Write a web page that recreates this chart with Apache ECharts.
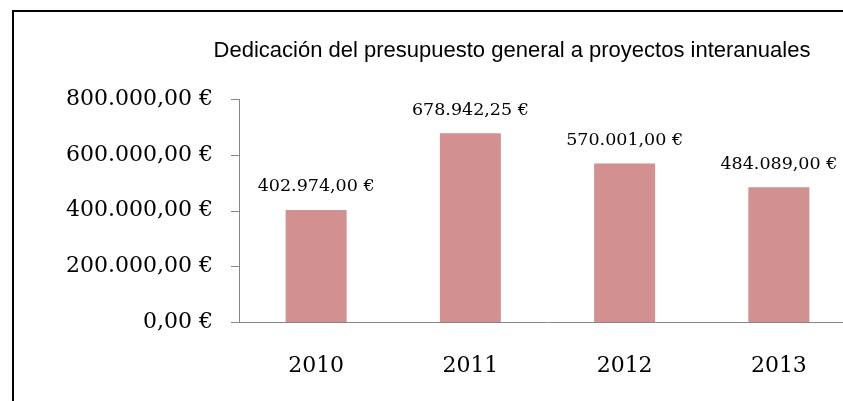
<!DOCTYPE html>
<html>
<head>
<meta charset="utf-8">
<script src="https://cdn.jsdelivr.net/npm/echarts@6/dist/echarts.min.js"></script>
<style>
  html, body { margin: 0; padding: 0; background: #fff; overflow: hidden; }
  #main { width: 860px; height: 401px; }
</style>
</head>
<body>
<div id="main"></div>
<script>
// datos del gráfico
var years = ['2010', '2011', '2012', '2013'];
var importes = [402974.00, 678942.25, 570001.00, 484089.00];
var yTicks = [0, 200000, 400000, 600000, 800000];

// formato español: 402.974,00 €
function euros(v) {
    var parts = Number(v).toFixed(2).split('.');
    var ent = parts[0].replace(/\B(?=(\d{3})+(?!\d))/g, '.');
    return ent + ',' + parts[1] + ' €';
}

var myChart = echarts.init(document.getElementById('main'));
myChart.setOption({
    animation: false,
    title: {
        text: 'Dedicación del presupuesto general a proyectos interanuales',
        left: 507,
        top: 35,
        textAlign: 'center',
        textStyle: {
            fontFamily: 'Liberation Sans',
            fontWeight: 'normal',
            fontSize: 22,
            color: '#000'
        }
    },
    graphic: [{
        type: 'polyline',
        shape: { points: [[13, 401], [13, 11], [860, 11]] },
        style: { stroke: '#000', lineWidth: 2, fill: null }
    }],
    grid: {
        left: 239,
        top: 99.5,
        width: 617,
        height: 222.5
    },
    xAxis: {
        type: 'category',
        data: years,
        axisLine: { lineStyle: { color: '#868686' } },
        axisTick: { length: 8, lineStyle: { color: '#868686' } },
        axisLabel: {
            margin: 33,
            fontFamily: 'DejaVu Serif',
            fontSize: 22,
            color: '#000'
        }
    },
    yAxis: {
        type: 'value',
        min: yTicks[0],
        max: yTicks[yTicks.length - 1],
        interval: yTicks[1] - yTicks[0],
        splitLine: { show: false },
        axisLine: { show: true, lineStyle: { color: '#868686' } },
        axisTick: { show: true, length: 8, lineStyle: { color: '#868686' } },
        axisLabel: {
            margin: 26,
            fontFamily: 'DejaVu Serif',
            fontSize: 22,
            color: '#000',
            formatter: euros
        }
    },
    series: [{
        type: 'bar',
        data: importes,
        barWidth: 61,
        itemStyle: { color: '#d29190' },
        label: {
            show: true,
            position: 'top',
            distance: 14,
            fontFamily: 'DejaVu Serif',
            fontSize: 17.5,
            color: '#000',
            formatter: function (p) { return euros(p.value); }
        }
    }]
});
</script>
</body>
</html>
